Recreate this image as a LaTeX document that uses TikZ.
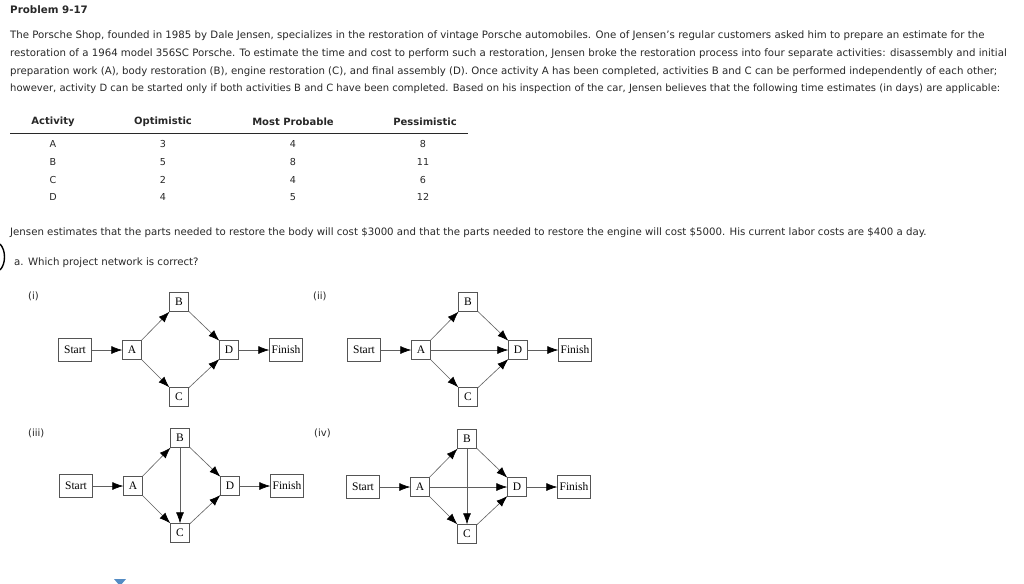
\documentclass[tikz,border=0pt]{standalone}
\usepackage{fontspec}
\setmainfont{DejaVu Sans}
\newfontfamily\netfont{Liberation Serif}
\usetikzlibrary{arrows.meta}

\definecolor{textgray}{RGB}{40,40,40}
\definecolor{boxgray}{RGB}{85,85,85}
\definecolor{linegray}{RGB}{95,95,95}
\definecolor{markblue}{RGB}{84,140,196}

\begin{document}
\begin{tikzpicture}[x=1pt, y=-1pt]

% styles
\tikzset{txt/.style={anchor=west, inner sep=0, text=textgray, font=\fontsize{10.2}{12}\selectfont}} % running text
\tikzset{hdr/.style={inner sep=0, text=textgray, font=\bfseries\fontsize{10}{12}\selectfont}} % table head
\tikzset{cell/.style={inner sep=0, text=textgray, font=\fontsize{9.6}{11}\selectfont}} % table cells
\tikzset{tag/.style={txt, font=\fontsize{10}{12}\selectfont}} % (i)...(iv)
\tikzset{actbox/.style={draw=boxgray, fill=white, minimum width=19pt, minimum height=19pt, inner sep=1pt, font=\netfont\fontsize{11.5}{13}\selectfont}} % activities
\tikzset{endbox/.style={actbox, minimum width=33pt, minimum height=23pt}} % start / finish
\tikzset{link/.style={draw=linegray, line width=0.6pt, -{Latex[length=11pt, width=8pt, color=black]}}} % precedence

\fill[white] (0,0) rectangle (1024,583);
\useasboundingbox (0,0) rectangle (1024,583);

% problem text
\node[txt, font=\bfseries\fontsize{10.3}{12}\selectfont] (title) at (10,10) {Problem 9-17};
\node[txt] (para1) at (10,36) {The Porsche Shop, founded in 1985 by Dale Jensen, specializes in the restoration of vintage Porsche automobiles. One of Jensen's regular customers asked him to prepare an estimate for the};
\node[txt] (para2) at (10,54) {restoration of a 1964 model 356SC Porsche. To estimate the time and cost to perform such a restoration, Jensen broke the restoration process into four separate activities: disassembly and initial};
\node[txt] (para3) at (10,72) {preparation work (A), body restoration (B), engine restoration (C), and final assembly (D). Once activity A has been completed, activities B and C can be performed independently of each other;};
\node[txt, font=\fontsize{10}{12}\selectfont] (para4) at (10,89) {however, activity D can be started only if both activities B and C have been completed. Based on his inspection of the car, Jensen believes that the following time estimates (in days) are applicable:};

% table
\node[hdr] (hact) at (53,122) {Activity};
\node[hdr] (hopt) at (163,122) {Optimistic};
\node[hdr] (hmost) at (293,122) {Most Probable};
\node[hdr] (hpess) at (425,122) {Pessimistic};
\draw[textgray, line width=0.8pt] (10,133) -- (468,133);
\foreach \y/\a/\o/\m/\p in {144/A/3/4/8, 162/B/5/8/11, 180/C/2/4/6, 197/D/4/5/12} {
  \node[cell] (act\a) at (53,\y) {\a};
  \node[cell] (opt\a) at (163,\y) {\o};
  \node[cell] (most\a) at (293,\y) {\m};
  \node[cell] (pess\a) at (423,\y) {\p};
}

\node[txt] (costs) at (10,233) {Jensen estimates that the parts needed to restore the body will cost \$3000 and that the parts needed to restore the engine will cost \$5000. His current labor costs are \$400 a day.};
\node[txt] (question) at (14,263) {a. Which project network is correct?};
\draw[black, line width=1.4pt] (0,244) .. controls (6,250) and (6,264) .. (0,270);

% answer labels
\node[tag] (lbli) at (28,296) {(i)};
\node[tag] (lblii) at (313,296) {(ii)};
\node[tag] (lbliii) at (28,433) {(iii)};
\node[tag] (lbliv) at (314,433) {(iv)};

% the four networks
\foreach \d/\dx/\dy in {i/0/0, ii/289/0, iii/1/136, iv/288/137} {
  \begin{scope}[shift={(\dx,\dy)}]
    \node[endbox] (start\d) at (75,350) {Start};
    \node[actbox] (a\d) at (132,350) {A};
    \node[actbox] (b\d) at (179,302) {B};
    \node[actbox] (c\d) at (179,397) {C};
    \node[actbox] (d\d) at (229,350) {D};
    \node[endbox] (finish\d) at (286,350) {Finish};
  \end{scope}
  \draw[link] (start\d) -- (a\d);
  \draw[link] (a\d) -- (b\d);
  \draw[link] (a\d) -- (c\d);
  \draw[link] (b\d) -- (d\d);
  \draw[link] (c\d) -- (d\d);
  \draw[link] (d\d) -- (finish\d);
}
% extra links
\draw[link] (aii) -- (dii);
\draw[link] (biii) -- (ciii);
\draw[link] (aiv) -- (div);
\draw[link] (biv) -- (civ);

\fill[markblue] (114,579) -- (126,579) -- (120,586) -- cycle;

\end{tikzpicture}
\end{document}
